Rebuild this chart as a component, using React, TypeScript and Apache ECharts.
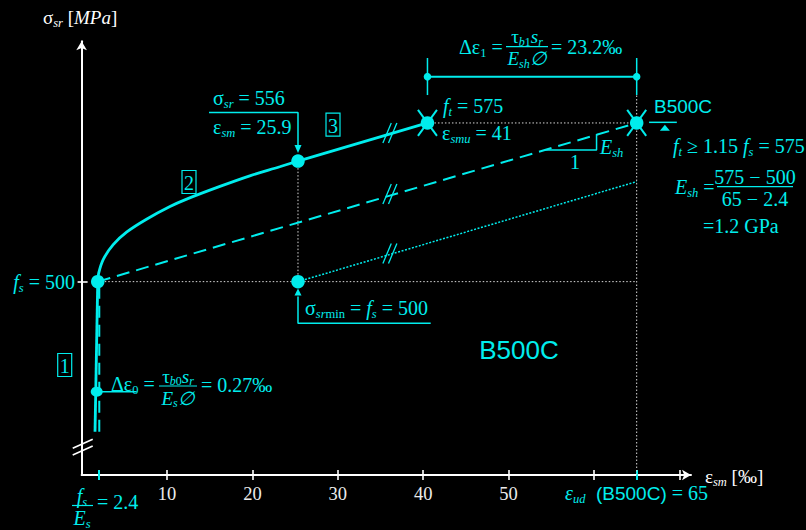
import React, { useEffect, useRef } from "react";
import * as echarts from "echarts";

const CYAN = "#00eded";
const WHITE = "#ffffff";
const GREY = "#ececec";
const SERIF = '"Liberation Serif", "DejaVu Serif", serif';
const SANS = '"Liberation Sans", "DejaVu Sans", sans-serif';

// ---- axes (strain in ‰, stress in MPa) ----
const X_RANGE = [0, 71.36];
const Y_RANGE = [408.6, 613.6];
const xTicks = [10, 20, 30, 40, 50, 60, 70];
const xTickLabels = [10, 20, 30, 40, 50];
const xMarkedTicks = [2.04, 65];
const yTicks = [500];

// ---- curves ----
const elasticBranch = [[1.57, 429], [1.89, 500]];
const hardeningBranch = [
  [1.89, 500], [2.0, 504], [2.54, 510.5], [3.7, 517.5], [5.3, 523.5], [7.6, 529.5],
  [10.35, 535.5], [12.3, 539], [16.2, 545], [19.7, 550], [23.2, 554.3], [25.34, 557],
];
const stage3Branch = [[25.34, 557], [40.5, 575]];
const dashedVertical = [[2.07, 429], [2.07, 497]];
const dashedBilinear = [[1.89, 500], [65, 575]];
const dottedShifted = [[25.34, 500], [65, 547.3]];
const guideLines = [
  [[1.89, 500], [65, 500]],
  [[25.34, 500], [25.34, 557]],
  [[40.5, 575], [65, 575]],
  [[65, 408.6], [65, 588.2]],
];

// ---- points ----
const keyPoints = [[1.89, 500], [25.34, 557], [25.34, 500], [40.5, 575], [65, 575]];
const ultimatePoints = [[40.5, 575], [65, 575]];
const tensionPoint = [[1.77, 448]];

// ---- annotation geometry (data coordinates) ----
const dimLine = [[40.5, 596.9], [65, 596.9]];
const dimTicks = [[[40.5, 588.2], [40.5, 605.7]], [[65, 588.2], [65, 605.7]]];
const leader556 = [[14.92, 579.9], [25.34, 579.9], [25.34, 564]];
const arrowDown = [[25.34, 562.7]];
const leaderMin = [[40.88, 480.3], [25.34, 480.3], [25.34, 493]];
const arrowUp = [[25.34, 495.1]];
const underline0 = [[1.77, 448], [6.45, 448]];
const slopeTriangle = [[54.26, 562.2], [60.3, 562.2], [60.3, 569.8]];
const supportLine = [[66.45, 575.3], [69.7, 575.3]];
const supportMark = [[68.3, 572.7]];
const breakMarks = [[36.1, 570.3], [36.1, 541.4], [36.1, 513.3]];
const axisBreak = [[0.13, 421.8]];

const tok = (size: number, fill: string, italic = false, sub = false, family = SERIF, lh = 25) => {
  const s: any = { fontFamily: family, fontSize: size, fill, fontStyle: italic ? "italic" : "normal" };
  if (sub) s.verticalAlign = "bottom";
  else s.lineHeight = lh;
  return s;
};
const RICH: any = {
  r: tok(20, CYAN),
  i: tok(20, CYAN, true),
  s: tok(12.5, CYAN, true, true),
  n: tok(12.5, CYAN, false, true),
  fr: tok(19, CYAN, false, false, SERIF, 22),
  fi: tok(19, CYAN, true, false, SERIF, 22),
  fs: tok(12, CYAN, true, true),
  fn: tok(12, CYAN, false, true),
  a: tok(19, CYAN, false, false, SANS),
  big: tok(26, CYAN, false, false, SANS, 30),
  w: tok(19, WHITE),
  wi: tok(19, WHITE, true),
  ws: tok(12.5, WHITE, true, true),
};

const txt = (x: number, y: number, text: string, align = "left") => ({
  type: "text", x, y, silent: true, z: 100,
  style: { text, rich: RICH, align, verticalAlign: "middle", fill: CYAN },
});
const hl = (x1: number, x2: number, y: number) => ({
  type: "line", silent: true, z: 100,
  shape: { x1, y1: y, x2, y2: y },
  style: { stroke: CYAN, lineWidth: 1.2 },
});
const box = (cx: number, cy: number, label: string) => [
  { type: "rect", silent: true, z: 100, shape: { x: cx - 7, y: cy - 11.5, width: 14, height: 23 }, style: { fill: "none", stroke: CYAN, lineWidth: 1.2 } },
  txt(cx, cy + 1, `{r|${label}}`, "center"),
];
const frac = (cx: number, y: number, x1: number, x2: number, num: string, den: string) => [
  txt(cx, y - 10, num, "center"),
  hl(x1, x2, y),
  txt(cx, y + 12, den, "center"),
];

const graphics: any[] = [
  txt(43, 17, "{w|σ}{ws|sr}{w| [}{wi|MPa}{w|]}"),
  txt(705, 476, "{w|ε}{ws|sm}{w| [‰]}"),
  txt(75, 282, "{i|f}{s|s}{r| = 500}", "right"),
  ...frac(82, 505.5, 72, 93, "{i|f}{s|s}", "{i|E}{s|s}"),
  txt(97, 502, "{r|= 2.4}"),
  txt(111, 384, "{r|Δε}{n|0}{r| = }"),
  ...frac(178, 386, 159, 197, "{fr|τ}{fs|b}{fn|0}{fi|s}{fs|r}", "{fi|E}{fs|s}{fi|∅}"),
  txt(201, 385, "{r|= 0.27‰}"),
  txt(213, 98.3, "{r|σ}{s|sr}{r| = 556}"),
  txt(213, 126.7, "{r|ε}{s|sm}{r| = 25.9}"),
  txt(443, 106, "{i|f}{s|t}{r| = 575}"),
  txt(442, 133, "{r|ε}{s|smu}{r| = 41}"),
  txt(459, 46.7, "{r|Δε}{n|1}{r| = }"),
  ...frac(527, 46.7, 506, 548, "{fr|τ}{fs|b}{fn|1}{fi|s}{fs|r}", "{fi|E}{fs|sh}{fi|∅}"),
  txt(551, 46.7, "{r|= 23.2‰}"),
  txt(654, 106.7, "{a|B500C}"),
  txt(673, 146, "{i|f}{s|t}{r| ≥ 1.15 }{i|f}{s|s}{r| = 575}"),
  txt(675, 186.7, "{i|E}{s|sh}{r| =}"),
  ...frac(755, 186.7, 717, 793, "{r|575 − 500}", "{r|65 − 2.4}"),
  txt(703, 225.7, "{r|=1.2 GPa}"),
  txt(600, 146.7, "{i|E}{s|sh}"),
  txt(575, 161.7, "{r|1}", "center"),
  txt(305, 308.3, "{r|σ}{s|sr}{n|min}{r| = }{i|f}{s|s}{r| = 500}"),
  txt(636.5, 493.3, "{i|ε}{s|ud}{a|  (B500C)}{r| = 65}", "center"),
  txt(519, 350, "{big|B500C}", "center"),
  ...box(64.7, 365, "1"),
  ...box(189, 182, "2"),
  ...box(333, 124.7, "3"),
];

const seg = (data: any, color: string, width: number, type: any = "solid", z = 3, smooth: any = false) => ({
  type: "line", data, symbol: "none", showSymbol: false, silent: true, clip: false, z, smooth,
  lineStyle: { color, width, type, cap: "butt" },
  emphasis: { disabled: true },
});
const dots = (data: any, size: any, symbol = "circle", rotate = 0, z = 6) => ({
  type: "scatter", data, symbol, symbolSize: size, symbolRotate: rotate, silent: true, clip: false, z,
  itemStyle: { color: CYAN, opacity: 1 },
});
const custom = (data: any, draw: (p: number[]) => any[], z = 5) => ({
  type: "custom", data, clip: false, silent: true, z,
  renderItem: (_params: any, api: any) => {
    const p = api.coord([api.value(0), api.value(1)]);
    return { type: "group", children: draw(p) };
  },
});
const ln = (x1: number, y1: number, x2: number, y2: number, stroke: string, lineWidth: number) => ({
  type: "line", shape: { x1, y1, x2, y2 }, style: { stroke, lineWidth },
});

const baseX = { type: "value", min: X_RANGE[0], max: X_RANGE[1], position: "bottom", splitLine: { show: false } };
const baseY = { type: "value", min: Y_RANGE[0], max: Y_RANGE[1], position: "left", splitLine: { show: false } };

const option: any = {
  animation: false,
  backgroundColor: "#000000",
  grid: { left: 81.6, right: 115, top: 41.3, bottom: 55, containLabel: false },
  xAxis: [
    {
      ...baseX,
      axisLine: { show: true, onZero: false, symbol: ["none", "arrow"], symbolSize: [8, 9], lineStyle: { color: WHITE, width: 2 } },
      axisTick: { show: false },
      axisLabel: { show: true, customValues: xTickLabels, color: GREY, fontFamily: SERIF, fontSize: 18.5, margin: 9 },
    },
    {
      ...baseX, offset: -5,
      axisLine: { show: false, onZero: false },
      axisTick: { show: true, customValues: xTicks, length: 10, lineStyle: { color: WHITE, width: 1.6 } },
      axisLabel: { show: false },
    },
    {
      ...baseX, offset: -5,
      axisLine: { show: false, onZero: false },
      axisTick: { show: true, customValues: xMarkedTicks, length: 10, lineStyle: { color: CYAN, width: 2 } },
      axisLabel: { show: false },
    },
  ],
  yAxis: [
    {
      ...baseY,
      axisLine: { show: true, onZero: false, symbol: ["none", "arrow"], symbolSize: [8, 9], lineStyle: { color: WHITE, width: 2 } },
      axisTick: { show: false },
      axisLabel: { show: false },
    },
    {
      ...baseY, offset: -6,
      axisLine: { show: false, onZero: false },
      axisTick: { show: true, customValues: yTicks, length: 10, lineStyle: { color: WHITE, width: 1.6 } },
      axisLabel: { show: false },
    },
  ],
  graphic: graphics,
  series: [
    ...guideLines.map((g) => seg(g, "#d8d8d8", 1, [1.5, 2], 2)),
    seg(dottedShifted, CYAN, 1.5, [2, 1.6], 3),
    seg(dashedVertical, CYAN, 2, [12, 7], 3),
    seg(dashedBilinear, CYAN, 2, [13, 7], 3),
    seg(elasticBranch, CYAN, 2.8, "solid", 4),
    seg(hardeningBranch, CYAN, 2.8, "solid", 4, 0.35),
    seg(stage3Branch, CYAN, 2.8, "solid", 4),
    seg(dimLine, CYAN, 2, "solid", 4),
    ...dimTicks.map((d) => seg(d, CYAN, 1.5, "solid", 4)),
    seg(leader556, CYAN, 1.5, "solid", 4),
    seg(leaderMin, CYAN, 1.5, "solid", 4),
    seg(underline0, CYAN, 1.5, "solid", 4),
    seg(slopeTriangle, CYAN, 1.5, "solid", 4),
    seg(supportLine, CYAN, 1.5, "solid", 4),
    dots(keyPoints, 13.5),
    dots(tensionPoint, [12, 10]),
    dots(dimLine, 7.5),
    dots(arrowDown, [7, 8], "triangle", 180),
    dots(arrowUp, [7, 7], "triangle", 0),
    dots(supportMark, [10, 6], "triangle", 0),
    custom(ultimatePoints, (p) => [
      ln(p[0] - 9.5, p[1] - 13, p[0] + 9.5, p[1] + 13, CYAN, 2),
      ln(p[0] + 9.5, p[1] - 13, p[0] - 9.5, p[1] + 13, CYAN, 2),
    ]),
    custom(breakMarks, (p) => [
      ln(p[0] - 7, p[1] + 10, p[0] + 1.4, p[1] - 10, CYAN, 1.3),
      ln(p[0] - 1.4, p[1] + 10, p[0] + 7, p[1] - 10, CYAN, 1.3),
    ]),
    custom(axisBreak, (p) => [
      ln(p[0] - 10, p[1] + 1.1, p[0] + 10, p[1] - 7.9, WHITE, 1.6),
      ln(p[0] - 10, p[1] + 7.9, p[0] + 10, p[1] - 1.1, WHITE, 1.6),
    ]),
  ],
};

export default function App() {
  const ref = useRef<HTMLDivElement>(null);
  useEffect(() => {
    const chart = echarts.init(ref.current as HTMLDivElement, null, { renderer: "svg" });
    chart.setOption(option);
    return () => chart.dispose();
  }, []);
  return (
    <div
      ref={ref}
      style={{ position: "fixed", left: 0, top: 0, width: 806, height: 530, background: "#000" }}
    />
  );
}
